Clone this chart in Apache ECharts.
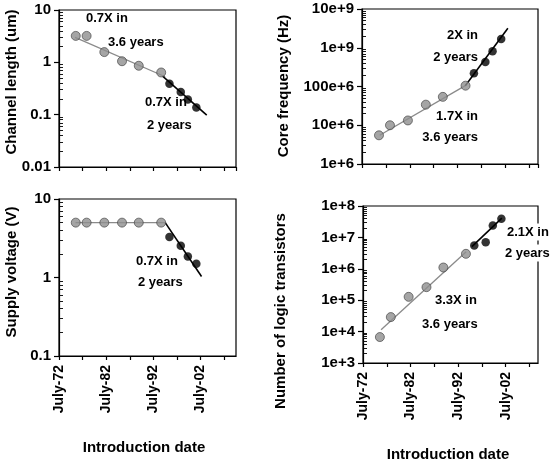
<!DOCTYPE html>
<html>
<head>
<meta charset="utf-8">
<script src="https://cdn.jsdelivr.net/npm/echarts@6/dist/echarts.min.js"></script>
<style>
  html, body { margin: 0; padding: 0; background: #fff; }
  #chart { width: 551px; height: 461px; }
</style>
</head>
<body>
<div id="chart"></div>
<script>
// introduction dates (decimal years), same processors in every panel
const grayDates = [1976.05, 1978.35, 1982.1, 1985.85, 1989.4, 1994.15];
const blackDates = [1995.9, 1998.3, 1999.8, 2001.6];

const channelGray = [3.2, 3.2, 1.57, 1.05, 0.86, 0.64];
const channelBlack = [0.39, 0.27, 0.195, 0.137];
const freqGray = [5.5e6, 1.0e7, 1.33e7, 3.4e7, 5.4e7, 1.05e8];
const freqBlack = [2.2e8, 4.3e8, 8.1e8, 1.68e9];
const voltGray = [5, 5, 5, 5, 5, 5];
const voltBlack = [3.27, 2.54, 1.85, 1.5];
const transGray = [6.7e3, 2.9e4, 1.28e5, 2.6e5, 1.1e6, 3.0e6];
const transBlack = [5.5e6, 7.0e6, 2.4e7, 3.9e7];

// trend lines, [date, value] end points
const channelFitGray = [[1975.9, 3.0], [1995.0, 0.53]];
const channelFitBlack = [[1994.45, 0.545], [2003.8, 0.098]];
const freqFitGray = [[1976.2, 5.5e6], [1994.1, 1.05e8]];
const freqFitBlack = [[1994.1, 1.05e8], [2003.0, 3.2e9]];
const voltFitGray = [[1976.0, 5], [1995.0, 5]];
const voltFitBlack = [[1995.0, 5.0], [2002.7, 1.03]];
const transFitGray = [[1976.3, 1.15e4], [1994.2, 3.5e6]];
const transFitBlack = [[1995.4, 5.1e6], [2001.7, 4.1e7]];

// tick labels
const dateTicks = ['July-72', 'July-82', 'July-92', 'July-02'];
const channelTicks = ['0.01', '0.1', '1', '10'];          // 1e-2 .. 1e1
const freqTicks = ['1e+6', '10e+6', '100e+6', '1e+9', '10e+9']; // 1e6 .. 1e10
const voltTicks = ['0.1', '1', '10'];                     // 1e-1 .. 1e1
const transTicks = ['1e+3', '1e+4', '1e+5', '1e+6', '1e+7', '1e+8'];

const t0 = 1972.5;
const chart = echarts.init(document.getElementById('chart'));

function pts(dates, vals) {
  return dates.map((d, i) => [d - t0, vals[i]]);
}
function fit(line) {
  return line.map(p => [p[0] - t0, p[1]]);
}
// 2..9 x 10^k inside each decade, for the small log ticks
function minorValues(minExp, maxExp) {
  const out = [];
  for (let e = minExp; e < maxExp; e++) {
    for (let m = 2; m <= 9; m++) out.push(m * Math.pow(10, e));
  }
  return out;
}

const tickFont = {color: '#000', fontFamily: 'Liberation Sans, Arial', fontWeight: 'bold', fontSize: 15};

function xAxis(idx, max, showLabels) {
  return {
    type: 'value', gridIndex: idx, min: 0, max: max, interval: 5,
    splitLine: {show: false},
    axisLine: {lineStyle: {color: '#000', width: 1.2}},
    axisTick: {length: 4, lineStyle: {color: '#000', width: 1.2}},
    axisLabel: {
      show: showLabels, rotate: 90, margin: 9, showMaxLabel: false,
      color: '#000', fontFamily: 'Liberation Sans, Arial', fontWeight: 'bold', fontSize: 14,
      formatter: v => (v % 10 === 0 ? dateTicks[v / 10] : '')
    }
  };
}

function yAxis(idx, minExp, maxExp, labels) {
  return {
    type: 'log', logBase: 10, gridIndex: idx,
    min: Math.pow(10, minExp), max: Math.pow(10, maxExp),
    splitLine: {show: false},
    axisLine: {lineStyle: {color: '#000', width: 1.2}},
    axisTick: {length: 5, lineStyle: {color: '#000', width: 1.2}},
    axisLabel: Object.assign({
      margin: 8,
      formatter: v => labels[Math.round(Math.log10(v)) - minExp]
    }, tickFont)
  };
}

// second log axis on the same grid only for the short inner ticks
function yMinorAxis(idx, minExp, maxExp) {
  return {
    type: 'log', logBase: 10, gridIndex: idx, position: 'left',
    min: Math.pow(10, minExp), max: Math.pow(10, maxExp),
    splitLine: {show: false},
    axisLine: {show: false},
    axisLabel: {show: false},
    axisTick: {inside: true, length: 4, customValues: minorValues(minExp, maxExp),
      lineStyle: {color: '#000', width: 0.9}}
  };
}

function panel(idx, gray, black, fitGray, fitBlack) {
  return [
    {type: 'line', xAxisIndex: idx, yAxisIndex: idx, data: fit(fitGray), symbol: 'none',
      lineStyle: {color: '#8a8a8a', width: 1.3}, z: 1, silent: true},
    {type: 'line', xAxisIndex: idx, yAxisIndex: idx, data: fit(fitBlack), symbol: 'none',
      lineStyle: {color: '#000', width: 1.6}, z: 1, silent: true},
    {type: 'scatter', xAxisIndex: idx, yAxisIndex: idx, data: gray, symbolSize: 9,
      itemStyle: {color: '#8f8f8f', borderColor: '#3a3a3a', borderWidth: 0.8}, z: 3},
    {type: 'scatter', xAxisIndex: idx, yAxisIndex: idx, data: black, symbolSize: 8.5,
      itemStyle: {color: '#000'}, z: 4}
  ];
}

const annFont = 'bold 13px "Liberation Sans", Arial';
const nameFont = 'bold 15px "Liberation Sans", Arial';

function note(text, x, y, align, extra) {
  return {
    type: 'text', x: x, y: y, z: 100,
    style: Object.assign({text: text, font: annFont, fill: '#000', textAlign: align || 'left', textVerticalAlign: 'middle'}, extra || {})
  };
}
function yName(text, x, y) {
  return {
    type: 'text', x: x, y: y, rotation: Math.PI / 2, z: 100,
    style: {text: text, font: nameFont, fill: '#000', textAlign: 'center', textVerticalAlign: 'middle'}
  };
}
function xName(text, x, y) {
  return {
    type: 'text', x: x, y: y, z: 100,
    style: {text: text, font: nameFont, fill: '#000', textAlign: 'center', textVerticalAlign: 'middle'}
  };
}

const gridStyle = {show: true, borderColor: '#000', borderWidth: 1.2, backgroundColor: 'transparent'};

const option = {
  backgroundColor: '#fff',
  animation: false,
  grid: [
    Object.assign({left: 59, top: 10, width: 177, height: 157}, gridStyle),
    Object.assign({left: 362, top: 9, width: 176, height: 155}, gridStyle),
    Object.assign({left: 59, top: 199, width: 177, height: 157}, gridStyle),
    Object.assign({left: 363, top: 206, width: 175, height: 157}, gridStyle)
  ],
  xAxis: [
    xAxis(0, 37.5, false),
    xAxis(1, 36.8, false),
    xAxis(2, 37.5, true),
    xAxis(3, 36.8, true)
  ],
  yAxis: [
    yAxis(0, -2, 1, channelTicks),
    yAxis(1, 6, 10, freqTicks),
    yAxis(2, -1, 1, voltTicks),
    yAxis(3, 3, 8, transTicks),
    yMinorAxis(0, -2, 1),
    yMinorAxis(1, 6, 10),
    yMinorAxis(2, -1, 1),
    yMinorAxis(3, 3, 8)
  ],
  series: [].concat(
    panel(0, pts(grayDates, channelGray), pts(blackDates, channelBlack), channelFitGray, channelFitBlack),
    panel(1, pts(grayDates, freqGray), pts(blackDates, freqBlack), freqFitGray, freqFitBlack),
    panel(2, pts(grayDates, voltGray), pts(blackDates, voltBlack), voltFitGray, voltFitBlack),
    panel(3, pts(grayDates, transGray), pts(blackDates, transBlack), transFitGray, transFitBlack)
  ),
  graphic: [
    yName('Channel length (um)', 12, 82),
    yName('Core frequency (Hz)', 284, 86),
    yName('Supply voltage (V)', 12, 272),
    yName('Number of logic transistors', 281, 311),
    xName('Introduction date', 144, 448),
    xName('Introduction date', 448, 455),
    note('0.7X in', 86, 18),
    note('3.6 years', 108, 42),
    note('0.7X in', 145, 102),
    note('2 years', 147, 125),
    note('2X in', 478, 35, 'right'),
    note('2 years', 478, 57, 'right'),
    note('1.7X in', 478, 116, 'right'),
    note('3.6 years', 478, 137, 'right'),
    note('0.7X in', 136, 261),
    note('2 years', 138, 282),
    note('3.3X in', 435, 300),
    note('3.6 years', 422, 324),
    note('2.1X in', 505, 232, 'left', {backgroundColor: '#fff', padding: [2, 2]}),
    note('2 years', 503, 253, 'left', {backgroundColor: '#fff', padding: [2, 2]})
  ]
};

chart.setOption(option);
window.addEventListener('resize', function () {
  chart.resize();
});
</script>
</body>
</html>
